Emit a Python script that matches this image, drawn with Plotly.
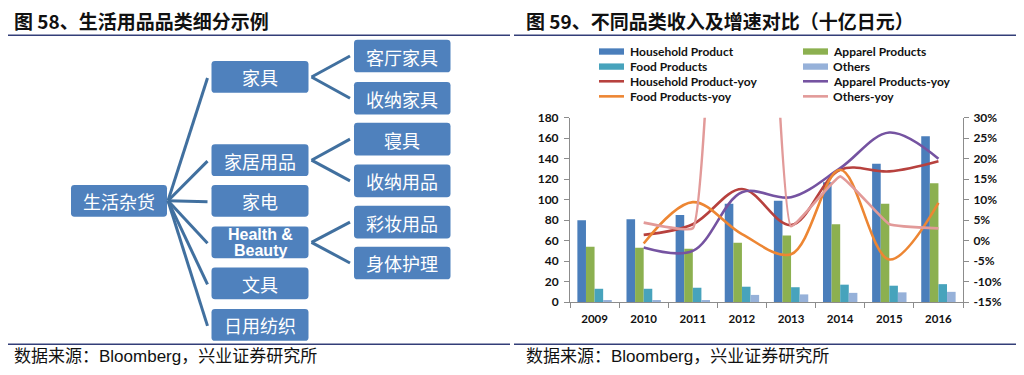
import plotly.graph_objects as go

W, H = 1024, 375

# ---------------- chart data ----------------
years = ["2009", "2010", "2011", "2012", "2013", "2014", "2015", "2016"]
yoy_years = years[1:]
household = [80, 81, 85, 96, 99, 117, 135, 162]
apparel = [54, 53, 52, 58, 65, 76, 96, 116]
food = [13, 13, 14, 15, 14.5, 17, 16, 17.5]
others = [2, 2, 2, 7, 7.5, 9, 9.5, 10]
household_yoy = [1.4, 4.0, 12.6, 3.8, 17.3, 16.9, 19.4]
apparel_yoy = [-1.7, -2.5, 11.8, 10.6, 17.7, 26.4, 20.0]
food_yoy = [-0.7, 9.4, 1.6, -3.3, 17.3, -4.6, 9.2]
others_yoy = [4.4, 3.0, 250.0, 3.5, 15.7, 4.0, 3.0]

bar_names = ["Household Product", "Apparel Products", "Food Products", "Others"]
line_names = ["Household Product-yoy", "Apparel Products-yoy", "Food Products-yoy", "Others-yoy"]
y_ticks_left = [0, 20, 40, 60, 80, 100, 120, 140, 160, 180]
y_ticks_right = [-15, -10, -5, 0, 5, 10, 15, 20, 25, 30]

# ---------------- diagram data ----------------
root = "生活杂货"
level2 = ["家具", "家居用品", "家电", "Health & Beauty", "文具", "日用纺织"]
level3 = {
    "家具": ["客厅家具", "收纳家具"],
    "家居用品": ["寝具", "收纳用品"],
    "Health & Beauty": ["彩妆用品", "身体护理"],
}

title_left = "图 58、生活用品品类细分示例"
title_right = "图 59、不同品类收入及增速对比（十亿日元）"
source_text = "数据来源：Bloomberg，兴业证券研究所"

# ---------------- styles / layout ----------------
bar_colors = ["#4A7EBB", "#8CB050", "#47A3BC", "#96B1D9"]
line_colors = ["#B7413E", "#7553A1", "#ED8633", "#E29A99"]
line_smooth = [1, 1, 1, 0.3]
box_color = "#4F81BD"
conn_color = "#41709F"
rule_color = "#333E78"
axis_color = "#8C8C8C"
CJK = "Noto Sans CJK SC"
TICKFONT = dict(family="Lato", size=12, color="#111111", weight="bold")

# page offset of the figure div (default body margin) -- positions below are screen pixels
OX, OY = 8, 8
# plot area in screen pixels
PX0, PX1, PY0, PY1 = 570, 963, 114, 306


def px(x):
    return (x - OX) / W


def py(y):
    return 1 - (y - OY) / H


fig = go.Figure()

bar_values = [household, apparel, food, others]
for name, vals, col in zip(bar_names, bar_values, bar_colors):
    fig.add_trace(go.Bar(x=years, y=vals, name=name, marker=dict(color=col, line=dict(width=0)),
                         showlegend=False, yaxis="y"))

line_values = [household_yoy, apparel_yoy, food_yoy, others_yoy]
for name, vals, col, sm in zip(line_names, line_values, line_colors, line_smooth):
    fig.add_trace(go.Scatter(x=yoy_years, y=vals, name=name, mode="lines",
                             line=dict(color=col, width=2.6, shape="spline", smoothing=sm),
                             showlegend=False, yaxis="y2"))

shapes = []
annotations = []

# ---- custom legend (two columns, four rows) ----
leg_rows = [45, 60.7, 76, 91.7]
leg_cols = [(599, 624, 627.5), (803, 828, 831)]
leg_items = list(zip(bar_names, bar_colors, ["bar"] * 4)) + list(zip(line_names, line_colors, ["line"] * 4))
for i, (name, col, kind) in enumerate(leg_items):
    r, c = divmod(i, 2)
    sx0, sx1, tx = leg_cols[c]
    yy = leg_rows[r]
    if kind == "bar":
        shapes.append(dict(type="rect", xref="paper", yref="paper", x0=px(sx0), x1=px(sx1),
                           y0=py(yy + 3.3), y1=py(yy - 3.3), fillcolor=col, line=dict(width=0)))
    else:
        shapes.append(dict(type="line", xref="paper", yref="paper", x0=px(sx0), x1=px(sx1),
                           y0=py(yy), y1=py(yy), line=dict(color=col, width=2.6)))
    annotations.append(dict(text=name, xref="paper", yref="paper", x=px(tx), y=py(yy),
                            xanchor="left", yanchor="middle", showarrow=False,
                            font=dict(family="Lato", size=12, color="#111111", weight="bold")))

# ---- titles, rules, sources ----
for tx, t in [(12, title_left), (524, title_right)]:
    annotations.append(dict(text=t, xref="paper", yref="paper", x=px(tx), y=py(12.5),
                            xanchor="left", yanchor="middle", showarrow=False,
                            font=dict(family=CJK, size=19, color="#111111", weight="bold")))
    annotations.append(dict(text=source_text, xref="paper", yref="paper", x=px(tx), y=py(363),
                            xanchor="left", yanchor="middle", showarrow=False,
                            font=dict(family="Liberation Sans, " + CJK, size=17, color="#111111")))
for x0, x1 in [(8, 510), (514, 1022)]:
    for yy in [28, 350]:
        shapes.append(dict(type="line", xref="paper", yref="paper", x0=px(x0), x1=px(x1),
                           y0=py(yy), y1=py(yy), line=dict(color=rule_color, width=1.6)))


# ---- tree diagram ----
def rrect(x0, y0, x1, y1, r=3.5):
    p = [
        ("M", [(x0 + r, y0)]), ("L", [(x1 - r, y0)]), ("Q", [(x1, y0), (x1, y0 + r)]),
        ("L", [(x1, y1 - r)]), ("Q", [(x1, y1), (x1 - r, y1)]), ("L", [(x0 + r, y1)]),
        ("Q", [(x0, y1), (x0, y1 - r)]), ("L", [(x0, y0 + r)]), ("Q", [(x0, y0), (x0 + r, y0)]),
    ]
    s = ""
    for cmd, pts in p:
        s += cmd + " " + " ".join(f"{px(a):.5f},{py(b):.5f}" for a, b in pts) + " "
    return s + "Z"


def box(x0, y0, x1, y1, label):
    shapes.append(dict(type="path", xref="paper", yref="paper", path=rrect(x0, y0, x1, y1),
                       fillcolor=box_color, line=dict(width=0), layer="above"))
    cx, cy = (x0 + x1) / 2, (y0 + y1) / 2
    if label == "Health & Beauty":
        for part, dy in [("Health &", -8.3), ("Beauty", 8.3)]:
            annotations.append(dict(text=part, xref="paper", yref="paper", x=px(cx), y=py(cy + dy),
                                    xanchor="center", yanchor="middle", showarrow=False,
                                    font=dict(family="Liberation Sans", size=16, color="white",
                                              weight="bold")))
    else:
        annotations.append(dict(text=label, xref="paper", yref="paper", x=px(cx), y=py(cy + 0.5),
                                xanchor="center", yanchor="middle", showarrow=False,
                                font=dict(family=CJK, size=18, color="white")))
    return cx, cy


def seg(x0, y0, x1, y1):
    shapes.append(dict(type="line", xref="paper", yref="paper", x0=px(x0), y0=py(y0),
                       x1=px(x1), y1=py(y1), line=dict(color=conn_color, width=3)))


ROOT_BOX = (71, 184, 167, 217)
L2_X = (211.5, 308.5)
L2_TOPS = [55, 141.7, 184, 227.3, 270, 313.3]
L2_H = 33
L3_X = (354, 450.5)
L3_TOPS = [32.7, 76.7, 119.3, 162.7, 205.7, 248.3]
L3_H = 34

rcx, rcy = box(*ROOT_BOX, root)
l3_i = 0
for name, top in zip(level2, L2_TOPS):
    cx, cy = box(L2_X[0], top, L2_X[1], top + L2_H, name)
    seg(168, rcy, 207.5, cy + 1)
    for child in level3.get(name, []):
        t3 = L3_TOPS[l3_i]
        l3_i += 1
        _, cy3 = box(L3_X[0], t3, L3_X[1], t3 + L3_H, child)
        seg(311.5, cy, 350, cy3)

axis_common = dict(showline=True, linecolor=axis_color, linewidth=1, ticks="outside",
                   ticklen=5, tickcolor=axis_color, showgrid=False, zeroline=False,
                   tickfont=TICKFONT)

fig.update_layout(
    width=W, height=H,
    margin=dict(l=0, r=0, t=0, b=0),
    paper_bgcolor="white", plot_bgcolor="rgba(0,0,0,0)",
    barmode="group", bargap=0.3, bargroupgap=0,
    showlegend=False,
    xaxis=dict(domain=[px(PX0), px(PX1)], type="category", tickson="boundaries",
               ticklabelstandoff=6, anchor="y",
               **{**axis_common, "tickfont": dict(family="Lato", size=11.5, color="#111111", weight="bold")}),
    yaxis=dict(domain=[py(PY1), py(PY0)], range=[0, 180], tickvals=y_ticks_left,
               anchor="x", ticklabelstandoff=3, **axis_common),
    yaxis2=dict(overlaying="y", side="right", range=[-15, 30], tickvals=y_ticks_right,
                ticktext=[f"{v}%" for v in y_ticks_right], anchor="x", ticklabelstandoff=2,
                **axis_common),
    shapes=shapes,
    annotations=annotations,
)

fig.write_html("out.html")
